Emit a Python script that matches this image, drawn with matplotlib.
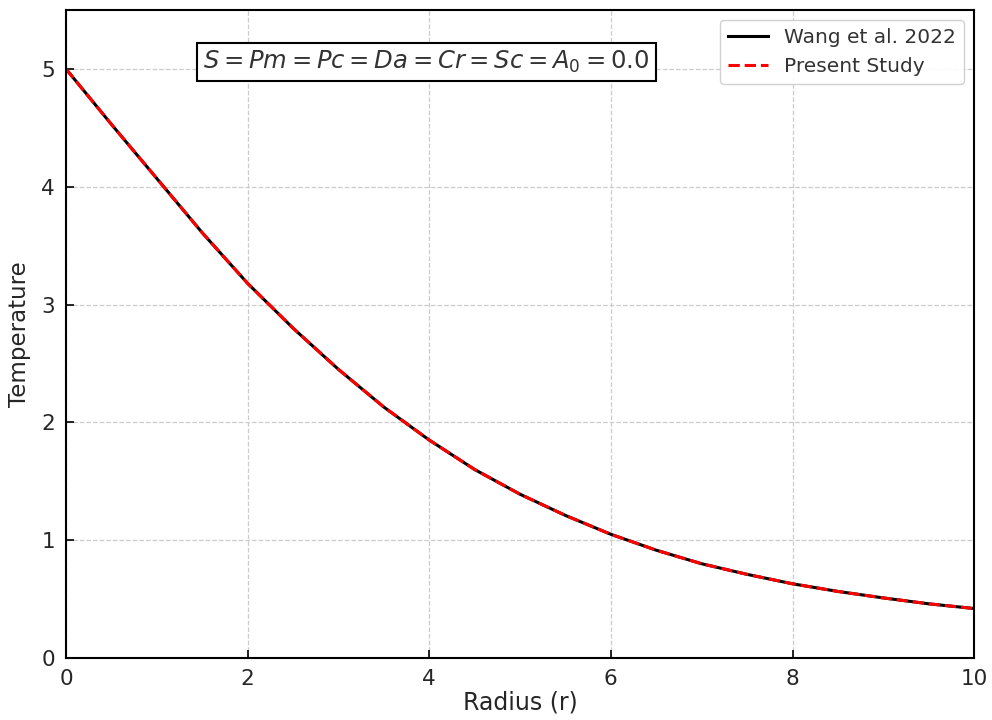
import numpy as np
import matplotlib
matplotlib.use("Agg")
import matplotlib.pyplot as plt

# Temperature profile (both curves coincide)
radius = [0.0, 0.5, 1.0, 1.5, 2.0, 2.5, 3.0, 3.5, 4.0, 4.5, 5.0,
          5.5, 6.0, 6.5, 7.0, 7.5, 8.0, 8.5, 9.0, 9.5, 10.0]
temp_wang = [5.00, 4.53, 4.07, 3.61, 3.18, 2.80, 2.45, 2.13, 1.85, 1.60, 1.39,
             1.21, 1.05, 0.915, 0.80, 0.71, 0.63, 0.565, 0.51, 0.46, 0.42]
temp_present = list(temp_wang)

x_ticks = [0, 2, 4, 6, 8, 10]
y_ticks = [0, 1, 2, 3, 4, 5]

fig = plt.figure(figsize=(9.92, 7.2), dpi=100)
ax = fig.add_axes([0.0665, 0.0861, 0.9155, 0.9])

ax.plot(radius, temp_wang, color="black", lw=2.2, label="Wang et al. 2022")
ax.plot(radius, temp_present, color="red", lw=2.2, ls="--", label="Present Study")

ax.set_xlim(0, 10)
ax.set_ylim(0, 5.5)
ax.set_xticks(x_ticks)
ax.set_yticks(y_ticks)
ax.tick_params(direction="in", length=6, width=1.2, labelsize=15.5,
               labelcolor="#262626", pad=8)
for sp in ax.spines.values():
    sp.set_linewidth(1.5)

ax.grid(True, ls="--", color="#cccccc", lw=0.9)
ax.set_axisbelow(True)

ax.set_xlabel("Radius (r)", fontsize=17, color="#262626", labelpad=1)
ax.set_ylabel("Temperature", fontsize=16.5, color="#262626", labelpad=7)

ax.text(0.397, 0.92, r"$S = Pm = Pc = Da = Cr = Sc = A_0 = 0.0$",
        transform=ax.transAxes, ha="center", va="center", fontsize=17.5,
        color="#333333",
        bbox=dict(boxstyle="square,pad=0.25", facecolor="white",
                  edgecolor="black", lw=1.5))

leg = ax.legend(loc="upper right", fontsize=14.5, framealpha=0.9,
                borderaxespad=0.5, handlelength=2.0)
for t in leg.get_texts():
    t.set_color("#333333")

fig.savefig("out.png", dpi=100)
